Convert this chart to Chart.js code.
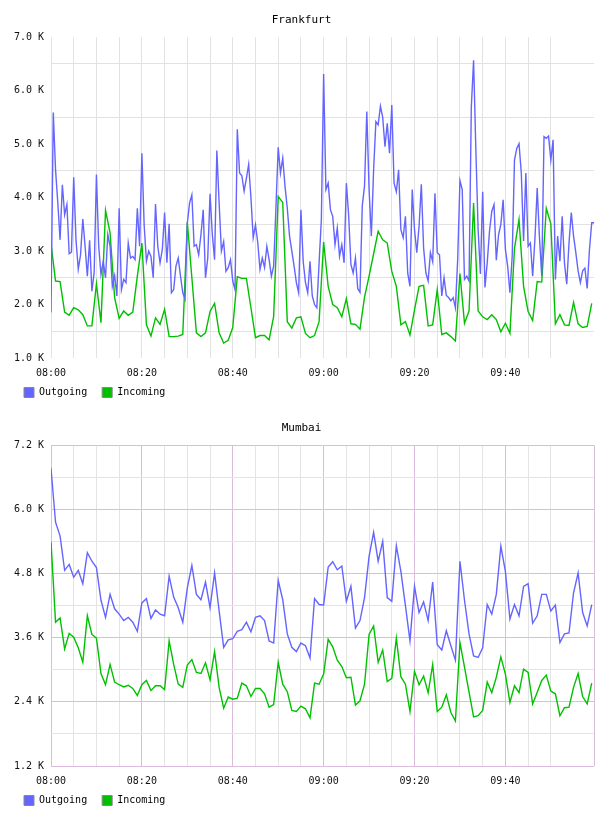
<!DOCTYPE html>
<html><head><meta charset="utf-8">
<script src="https://cdn.jsdelivr.net/npm/chart.js@4"></script>
<style>html,body{margin:0;padding:0;background:#fff}canvas{display:block}</style>
</head><body>
<canvas id="c1" width="608" height="408"></canvas>
<canvas id="c2" width="608" height="408"></canvas>
<script>
// ---------- DATA ----------
const seriesNames = ['Outgoing', 'Incoming'];
const xTickLabels = ['08:00', '08:20', '08:40', '09:00', '09:20', '09:40'];
const xTickEveryMin = 20;
const xGridEveryMin = 5;
const xSpanMin = 119.5;

// Frankfurt (values in K)
const frankfurtOutStepMin = 0.5;
const frankfurtOutgoing = [
 1.85,5.59,4.52,3.90,3.21,4.24,3.68,3.87,2.95,2.98,
 4.38,3.21,2.66,2.93,3.60,3.09,2.53,3.20,2.25,2.60,
 4.43,3.09,2.56,2.81,2.50,3.31,3.09,2.34,2.54,2.16,
 3.80,2.28,2.47,2.41,3.15,2.87,2.90,2.84,3.80,3.09,
 4.83,3.49,2.81,3.00,2.90,2.50,3.88,3.09,2.78,3.03,
 3.72,2.78,3.51,2.22,2.28,2.72,2.87,2.53,2.22,2.10,
 3.52,3.90,4.05,3.09,3.12,2.93,3.31,3.77,2.50,2.87,
 4.07,3.31,2.84,4.88,3.90,3.00,3.18,2.62,2.69,2.84,
 2.44,2.28,5.28,4.46,4.41,4.12,4.36,4.62,4.00,3.25,
 3.49,3.16,2.66,2.87,2.69,3.09,2.84,2.53,2.72,3.80,
 4.94,4.46,4.74,4.21,3.80,3.28,3.00,2.72,2.41,2.22,
 3.77,2.81,2.41,2.22,2.81,2.16,2.00,1.94,2.78,3.59,
 6.31,4.15,4.27,3.77,3.65,3.12,3.43,2.90,3.12,2.78,
 4.27,3.68,2.75,2.59,2.87,2.30,2.23,3.84,4.22,5.61,
 4.15,3.28,4.52,5.42,5.36,5.71,5.50,4.95,5.39,4.83,
 5.73,4.27,4.11,4.52,3.40,3.25,3.65,2.59,2.34,4.15,
 3.40,2.97,3.46,4.25,3.06,2.59,2.44,2.97,2.80,4.08,
 2.97,2.93,2.16,2.50,2.17,2.13,2.07,2.13,1.94,2.84,
 4.32,4.15,2.47,2.53,2.44,5.69,6.57,4.89,3.40,2.57,
 4.11,2.32,2.78,3.37,3.74,3.87,2.83,3.31,3.50,3.96,
 3.03,2.72,2.22,2.91,4.70,4.92,5.01,4.46,3.19,4.46,
 3.09,3.15,2.53,3.22,4.18,3.25,2.53,5.14,5.11,5.15,
 4.70,5.08,2.47,3.28,2.81,3.65,2.78,2.38,3.15,3.72,
 3.28,2.97,2.63,2.41,2.63,2.68,2.30,3.03,3.53,3.53
];
const frankfurtInStepMin = 1;
const frankfurtIncoming = [
 3.14,2.44,2.43,1.86,1.80,1.94,1.90,1.81,1.60,1.60,
 2.39,1.66,3.76,3.34,2.13,1.74,1.88,1.80,1.86,2.53,
 3.15,1.62,1.41,1.75,1.63,1.91,1.40,1.40,1.41,1.44,
 3.54,2.50,1.47,1.40,1.47,1.87,2.02,1.47,1.28,1.33,
 1.57,2.52,2.49,2.49,1.94,1.38,1.42,1.42,1.34,1.78,
 4.02,3.91,1.68,1.56,1.75,1.77,1.46,1.38,1.42,1.68,
 3.17,2.34,2.00,1.94,1.77,2.11,1.64,1.63,1.54,2.14,
 2.53,2.95,3.37,3.21,3.15,2.62,2.34,1.62,1.68,1.43,
 1.90,2.34,2.36,1.60,1.62,2.28,1.44,1.47,1.40,1.32,
 2.58,1.65,1.88,3.90,1.88,1.77,1.72,1.81,1.72,1.49,
 1.65,1.46,3.05,3.59,2.34,1.87,1.70,2.43,2.42,3.80,
 3.51,1.64,1.81,1.62,1.61,2.04,1.64,1.57,1.59,2.02
];
const frankfurtY = { min: 1.0, max: 7.0, step: 0.5, labelEvery: 1.0 };

// Mumbai (values in K)
const mumbaiStepMin = 1;
const mumbaiOutgoing = [
 6.77,5.76,5.50,4.86,4.97,4.73,4.86,4.61,5.19,5.03,
 4.91,4.30,3.98,4.41,4.14,4.04,3.92,3.98,3.89,3.72,
 4.25,4.33,3.96,4.12,4.04,4.01,4.75,4.36,4.16,3.89,
 4.53,4.95,4.41,4.31,4.64,4.16,4.81,4.10,3.42,3.56,
 3.58,3.72,3.75,3.89,3.71,3.98,4.01,3.92,3.54,3.50,
 4.67,4.31,3.67,3.42,3.34,3.50,3.45,3.22,4.33,4.22,
 4.21,4.92,5.02,4.87,4.94,4.28,4.56,3.78,3.92,4.35,
 5.12,5.57,5.03,5.40,4.35,4.28,5.32,4.84,4.20,3.54,
 4.56,4.07,4.27,3.92,4.64,3.47,3.37,3.73,3.45,3.18,
 5.03,4.30,3.67,3.26,3.23,3.41,4.22,4.04,4.41,5.31,
 4.84,3.95,4.22,4.01,4.56,4.61,3.87,4.01,4.41,4.41,
 4.10,4.21,3.51,3.67,3.69,4.44,4.81,4.07,3.82,4.22
];
const mumbaiIncoming = [
 5.40,3.89,3.97,3.39,3.68,3.61,3.41,3.14,4.01,3.66,
 3.59,2.93,2.72,3.10,2.77,2.72,2.68,2.71,2.65,2.52,
 2.72,2.80,2.61,2.70,2.70,2.63,3.54,3.10,2.73,2.67,
 3.09,3.19,2.95,2.93,3.13,2.81,3.34,2.67,2.28,2.49,
 2.45,2.47,2.75,2.70,2.50,2.65,2.65,2.55,2.30,2.35,
 3.14,2.73,2.59,2.24,2.22,2.32,2.27,2.10,2.75,2.73,
 2.92,3.57,3.43,3.18,3.06,2.85,2.86,2.34,2.42,2.73,
 3.66,3.82,3.14,3.37,2.78,2.84,3.59,2.87,2.73,2.22,
 2.97,2.72,2.88,2.57,3.10,2.22,2.30,2.53,2.20,2.04,
 3.51,3.05,2.58,2.12,2.14,2.24,2.77,2.57,2.86,3.24,
 2.92,2.39,2.70,2.57,3.01,2.95,2.36,2.58,2.80,2.90,
 2.60,2.55,2.14,2.29,2.30,2.67,2.93,2.50,2.36,2.75
];
const mumbaiY = { min: 1.2, max: 7.2, step: 0.6, labelEvery: 1.2 };

// ---------- STYLE ----------
const OUT_COLOR = '#6464ff';
const IN_COLOR = '#00c000';
const MONO = "'DejaVu Sans Mono', 'Liberation Mono', monospace";

function toPoints(values, stepMin) {
  return values.map((v, i) => ({ x: i * stepMin, y: v }));
}
function isMultiple(v, m) {
  const r = v / m;
  return Math.abs(r - Math.round(r)) < 1e-6;
}

// lift the legend row a few pixels (it sits partly beside the x tick labels)
const legendLift = {
  id: 'legendLift',
  afterLayout(chart) {
    const lg = chart.legend;
    if (lg) { lg.top -= 5.5; lg.bottom -= 5.5; }
  }
};

function makeChart(id, title, outVals, outStep, inVals, inStep, yDef, style) {
  const ctx = document.getElementById(id);
  return new Chart(ctx, {
    type: 'line',
    data: {
      datasets: [
        { label: seriesNames[0], data: toPoints(outVals, outStep), borderColor: OUT_COLOR, backgroundColor: OUT_COLOR, borderWidth: 1.4, pointRadius: 0, tension: 0, fill: false },
        { label: seriesNames[1], data: toPoints(inVals, inStep), borderColor: IN_COLOR, backgroundColor: IN_COLOR, borderWidth: 1.4, pointRadius: 0, tension: 0, fill: false }
      ]
    },
    plugins: [legendLift],
    options: {
      responsive: false,
      animation: false,
      devicePixelRatio: 1,
      layout: { padding: { left: 9, right: 14, top: 0, bottom: -5 } },
      plugins: {
        title: { display: true, text: title, color: '#000', font: { family: MONO, size: 11, weight: 'normal' }, padding: { top: 14, bottom: 10 } },
        legend: {
          position: 'bottom', align: 'start',
          labels: {
            boxWidth: 10, boxHeight: 10, padding: 15, color: '#000',
            font: { family: MONO, size: 10 },
            generateLabels(chart) {
              return Chart.defaults.plugins.legend.labels.generateLabels(chart).map(l => Object.assign(l, { strokeStyle: '#888888', lineWidth: 1 }));
            }
          }
        },
        tooltip: { enabled: false }
      },
      scales: {
        x: {
          type: 'linear', min: 0, max: xSpanMin,
          afterFit(s) { s.height = 20; },
          border: { display: false },
          grid: {
            drawTicks: false,
            color(c) {
              const v = c.tick.value;
              if (v === xSpanMin) return style.frame ? style.major : 'rgba(0,0,0,0)';
              if (!isMultiple(v, xGridEveryMin)) return 'rgba(0,0,0,0)';
              if (style.frame && isMultiple(v, xTickEveryMin)) return style.major;
              return style.minor;
            }
          },
          ticks: {
            stepSize: xGridEveryMin, autoSkip: false, maxRotation: 0, padding: 9,
            color: '#111', font: { family: MONO, size: 10 },
            callback(v) { return isMultiple(v, xTickEveryMin) ? (xTickLabels[Math.round(v / xTickEveryMin)] || '') : ''; }
          }
        },
        y: {
          min: yDef.min, max: yDef.max,
          afterFit(s) { s.width = 42; },
          border: { display: false },
          grid: {
            drawTicks: false,
            color(c) {
              const v = c.tick.value;
              const onLabel = isMultiple(v, yDef.labelEvery);
              if (style.frame) return onLabel ? style.major : style.minor;
              return onLabel ? 'rgba(0,0,0,0)' : style.minor;
            }
          },
          ticks: {
            stepSize: yDef.step, autoSkip: false, padding: 7,
            color: '#111', font: { family: MONO, size: 10 },
            callback(v) { return isMultiple(v, yDef.labelEvery) ? v.toFixed(1) + ' K' : ''; }
          }
        }
      }
    }
  });
}

makeChart('c1', 'Frankfurt', frankfurtOutgoing, frankfurtOutStepMin, frankfurtIncoming, frankfurtInStepMin, frankfurtY,
  { frame: false, minor: '#e2e2e2', major: '#e2e2e2' });
makeChart('c2', 'Mumbai', mumbaiOutgoing, mumbaiStepMin, mumbaiIncoming, mumbaiStepMin, mumbaiY,
  { frame: true, minor: '#e4e4e4', major: '#dcbcdc' });
</script>
</body></html>
